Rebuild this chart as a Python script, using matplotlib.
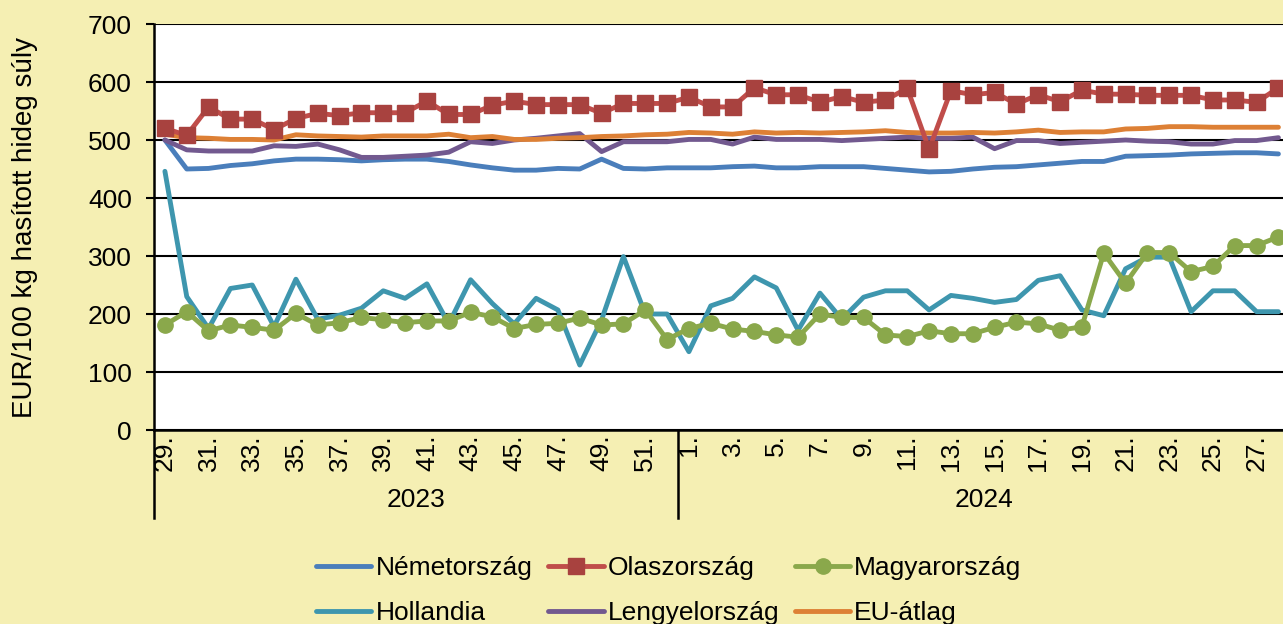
""" Sertés vágott test ára (EUR/100 kg hasított hideg súly), heti adatok 2023-2024
"""
import matplotlib
matplotlib.use('Agg')
import matplotlib.pyplot as plt

plt.rcParams['font.family'] = ['Liberation Sans', 'DejaVu Sans']

# heti adatok: 2023. 29. hét - 2024. 28. hét
weeks_2023 = list(range(29, 53))
weeks_2024 = list(range(1, 29))

nemet = [500, 450, 451, 456, 459, 464, 467, 467, 466, 464, 466, 467, 467, 463, 457, 452, 448, 448,
         451, 450, 467, 451, 450, 452, 452, 452, 454, 455, 452, 452, 454, 454, 454, 451, 448,
         445, 446, 450, 453, 454, 457, 460, 463, 463, 472, 473, 474, 476, 477, 478, 478, 476]
olasz = [520, 508, 557, 536, 536, 518, 537, 546, 542, 547, 547, 547, 567, 544, 544, 560, 567, 561,
         561, 561, 546, 563, 563, 563, 574, 557, 557, 590, 578, 578, 565, 575, 565, 569, 589,
         484, 585, 578, 582, 562, 578, 566, 586, 579, 579, 577, 577, 577, 569, 569, 565, 590]
magyar = [181, 204, 171, 181, 177, 172, 201, 181, 185, 194, 190, 185, 188, 188, 203, 195, 175, 182,
          184, 193, 181, 183, 207, 156, 175, 184, 174, 170, 164, 160, 200, 194, 194, 164, 161,
          171, 166, 166, 177, 186, 183, 172, 178, 305, 253, 306, 306, 273, 282, 318, 318, 333]
holland = [446, 230, 175, 244, 250, 178, 260, 191, 198, 210, 240, 227, 252, 183, 259, 218, 183, 227,
           207, 112, 190, 299, 200, 200, 135, 214, 227, 264, 245, 172, 236, 191, 229, 240, 240,
           207, 232, 227, 220, 225, 258, 266, 207, 197, 278, 298, 298, 204, 240, 240, 204, 204]
lengyel = [500, 483, 481, 481, 481, 490, 489, 493, 483, 470, 470, 472, 474, 479, 497, 494, 500, 503,
           507, 511, 480, 497, 497, 497, 501, 501, 493, 505, 501, 501, 501, 499, 501, 503, 505,
           503, 503, 505, 485, 499, 499, 494, 496, 498, 500, 498, 497, 493, 493, 499, 499, 504]
eu_atlag = [510, 504, 503, 501, 501, 500, 509, 507, 506, 505, 507, 507, 507, 510, 504, 506, 501, 501,
            503, 504, 506, 507, 509, 510, 513, 512, 510, 514, 512, 513, 512, 513, 514, 516, 513,
            512, 512, 513, 512, 514, 517, 513, 514, 514, 519, 520, 523, 523, 522, 522, 522, 522]

tick_labels = ['%d.' % w for w in weeks_2023] + ['%d.' % w for w in weeks_2024]

# legend oszlopfolytonos: így lesz két sor, három oszlop
series = [
    ('Németország', nemet, '#4A7EBB', None, None),
    ('Hollandia', holland, '#3E96AE', None, None),
    ('Olaszország', olasz, '#C04D4A', 's', '#A8423F'),
    ('Lengyelország', lengyel, '#72598F', None, None),
    ('Magyarország', magyar, '#8AA84B', 'o', '#8AA84B'),
    ('EU-átlag', eu_atlag, '#DD8035', None, None),
]
zorders = {'Németország': 3, 'Hollandia': 4, 'Olaszország': 7, 'Lengyelország': 5,
           'Magyarország': 6, 'EU-átlag': 5.5}

bg = '#F5EFB3'
W, H = 1283, 624
fig = plt.figure(figsize=(W / 100, H / 100), dpi=100, facecolor=bg)
n = len(nemet)
cat_w = (678 - 154) / len(weeks_2023)
ax = fig.add_axes([154 / W, (H - 430) / H, n * cat_w / W, 406 / H])
ax.set_facecolor('white')

x = list(range(n))
for name, vals, col, mk, mcol in series:
    ax.plot(x, vals, '-', color=col, lw=3.5, marker=mk, ms=12 if mk == 's' else 11,
            mfc=mcol, mec=mcol, label=name, zorder=zorders[name], solid_capstyle='round')

ax.set_xlim(-0.5, n - 0.5)
ax.set_ylim(0, 700)
ax.set_yticks(range(0, 701, 100))
ax.yaxis.grid(True, color='black', lw=1.5)
ax.set_axisbelow(True)
ax.tick_params(axis='y', labelsize=19, length=6, width=1.5, direction='out', pad=10)
ax.set_xticks(x[::2])
ax.set_xticklabels(tick_labels[::2], rotation=90, fontsize=19)
ax.tick_params(axis='x', length=0, pad=3)
for s in ['top', 'right']:
    ax.spines[s].set_visible(False)
for s in ['left', 'bottom']:
    ax.spines[s].set_linewidth(1.8)
ax.set_ylabel('EUR/100 kg hasított hideg súly', fontsize=20, labelpad=36)

# évek szerinti csoportosítás az x tengely alatt
drop = -(518 - 430) / 406
for xb in [-0.5, len(weeks_2023) - 0.5]:
    ax.plot([xb, xb], [0, drop], color='black', lw=1.8, clip_on=False,
            transform=ax.get_xaxis_transform())
ax.text((len(weeks_2023) - 1) / 2, -(500 - 430) / 406, '2023', fontsize=19,
        ha='center', va='center', transform=ax.get_xaxis_transform())
ax.text(len(weeks_2023) + (len(weeks_2024) - 1) / 2, -(500 - 430) / 406, '2024', fontsize=19,
        ha='center', va='center', transform=ax.get_xaxis_transform())

handles, labels = ax.get_legend_handles_labels()
fig.legend(handles, labels, loc='upper left', bbox_to_anchor=(316 / W, 1 - 556 / H),
           ncol=3, fontsize=19, frameon=False, handlelength=2.1, handletextpad=0.15,
           columnspacing=0.6, labelspacing=0.8, borderaxespad=0, borderpad=0)

fig.savefig('out.png', dpi=100, facecolor=bg)
